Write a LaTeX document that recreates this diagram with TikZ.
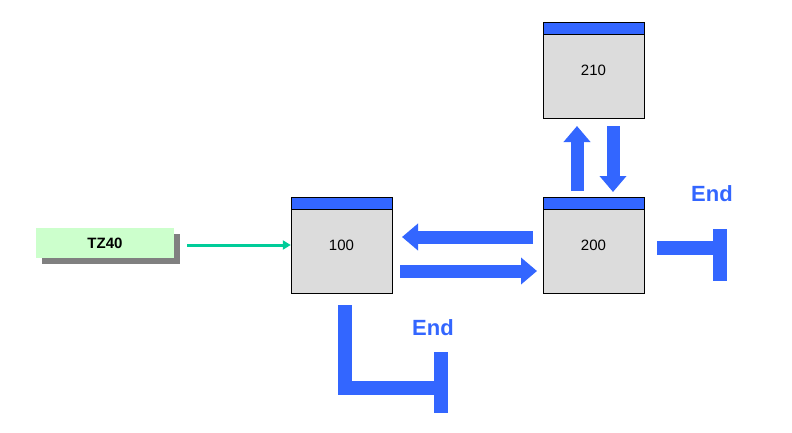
\documentclass[tikz,border=0pt]{standalone}
\usepackage{fontspec}
\setmainfont{Liberation Sans}
\usetikzlibrary{arrows.meta,positioning}
\definecolor{flowblue}{HTML}{3366FF}
\definecolor{boxgray}{HTML}{DCDCDC}
\definecolor{tzgreen}{HTML}{CCFFCC}
\definecolor{linkgreen}{HTML}{00CC99}
\tikzset{
  screen/.style={draw=black,fill=boxgray,minimum width=101pt,minimum height=96pt,inner sep=0pt,font=\fontsize{15}{15}\selectfont},
  flow/.style={flowblue,line width=13pt,-{Triangle[length=16pt,width=26pt]}},
  stopline/.style={flowblue,line width=14pt},
  endtext/.style={text=flowblue,font=\bfseries\fontsize{22}{22}\selectfont},
}
\begin{document}
\begin{tikzpicture}[x=1pt,y=-1pt]
    \useasboundingbox (0,0) rectangle (792,432);

    % screens
    \node[screen] (s100) at (341.5,245) {100};
    \node[screen] (s200) at (593.5,245) {200};
    \node[screen] (s210) at (593.5,70) {210};
    \foreach \s in {s100,s200,s210}
      \draw[fill=flowblue] (\s.north west) rectangle ([yshift=-12pt]\s.north east);

    % transaction
    \fill[gray] (42,234) rectangle (180,264);
    \node[fill=tzgreen,minimum width=138pt,minimum height=30pt,inner sep=0pt,font=\bfseries\fontsize{15}{15}\selectfont] (tz) at (105,243) {TZ40};
    \draw[linkgreen,line width=3pt,-{Triangle[length=8pt,width=9pt]}] (187,245) -- (s100.west);

    % flow between screens
    \draw[flow] (533,237) -- (402,237);
    \draw[flow] (400,271) -- (537,271);
    \draw[flow] (577,191) -- (577,126);
    \draw[flow] (613,126) -- (613,192);

    % end of 200
    \node[endtext] (end200) at (712,194) {End};
    \draw[stopline] (657,248) -- (726,248);
    \draw[stopline] (720,229) -- (720,281);

    % end of 100
    \node[endtext] (end100) at (433,328) {End};
    \draw[stopline] (345,305) -- (345,388) -- (440,388);
    \draw[stopline] (441,352) -- (441,413);
\end{tikzpicture}
\end{document}
